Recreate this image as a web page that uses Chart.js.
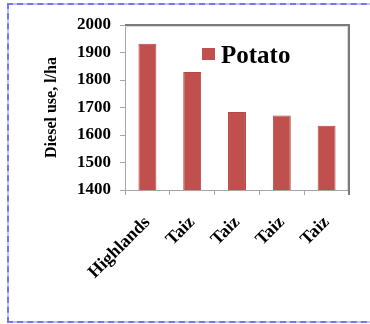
<!DOCTYPE html>
<html>
<head>
<meta charset="utf-8">
<script src="https://cdn.jsdelivr.net/npm/chart.js@4.4.0/dist/chart.umd.min.js"></script>
<style>
  html, body { margin: 0; padding: 0; background: #ffffff; }
  #wrap { position: relative; width: 370px; height: 324px; overflow: hidden; }
  .frame {
    position: absolute; left: 7px; top: 3px; width: 380px; height: 320px;
    box-sizing: border-box;
  }
  #frameBase { border: 2px solid #c2c2ff; }
  #frameDash { border: 2px dashed #7676f2; }
  canvas { position: absolute; left: 0; top: 0; }
</style>
</head>
<body>
<div id="wrap">
  <div class="frame" id="frameBase"></div>
  <div class="frame" id="frameDash"></div>
  <canvas id="c" width="370" height="324"></canvas>
</div>
<script>
// Diesel use per hectare for potato, by region
const categories = ["Highlands", "Taiz", "Taiz", "Taiz", "Taiz"];
const potato = [1932, 1829, 1684, 1671, 1634];
const yTicks = [1400, 1500, 1600, 1700, 1800, 1900, 2000];

const serif = "'Liberation Serif', 'Times New Roman', serif";
const barColor = "#c0504d";

// Frame on the top and right edges of the plot area
const plotFrame = {
  id: "plotFrame",
  afterDatasetsDraw(chart) {
    const { ctx, chartArea: a } = chart;
    ctx.save();
    ctx.strokeStyle = "#d8d8d8";
    ctx.lineWidth = 1;
    ctx.beginPath();
    ctx.moveTo(a.left, a.top + 1.5);
    ctx.lineTo(a.right - 1.5, a.top + 1.5);
    ctx.lineTo(a.right - 1.5, a.bottom);
    ctx.stroke();
    ctx.strokeStyle = "#7a7a7a";
    ctx.lineWidth = 2;
    ctx.beginPath();
    ctx.moveTo(a.left, a.top);
    ctx.lineTo(a.right, a.top);
    ctx.lineTo(a.right, a.bottom + 5);
    ctx.stroke();
    ctx.restore();
  }
};

// Legend drawn inside the plot area, near its top right corner
const innerLegend = {
  id: "innerLegend",
  afterDraw(chart) {
    const { ctx, chartArea: a } = chart;
    const ds = chart.data.datasets[0];
    const x = a.left + 77, y = a.top + 29;
    ctx.save();
    ctx.fillStyle = ds.backgroundColor;
    ctx.fillRect(x, y - 6, 13, 12);
    ctx.fillStyle = "#000000";
    ctx.font = "bold 25px " + serif;
    ctx.textBaseline = "middle";
    ctx.textAlign = "left";
    ctx.fillText(ds.label, x + 19, y + 3);
    ctx.restore();
  }
};

new Chart(document.getElementById("c"), {
  type: "bar",
  data: {
    labels: categories,
    datasets: [{
      label: "Potato",
      data: potato,
      backgroundColor: barColor,
      borderColor: "#b84744",
      borderWidth: 1,
      categoryPercentage: 1.0,
      barPercentage: 0.4
    }]
  },
  options: {
    responsive: false,
    animation: false,
    devicePixelRatio: 1,
    layout: { padding: { left: 42, top: 25, right: 21, bottom: 30 } },
    plugins: {
      legend: { display: false },
      tooltip: { enabled: false }
    },
    scales: {
      x: {
        grid: {
          drawOnChartArea: false, drawTicks: true, tickLength: 5,
          color: "#a6a6a6", offset: true
        },
        border: { color: "#a6a6a6", width: 1 },
        ticks: {
          color: "#000000", minRotation: 45, maxRotation: 45, padding: 17,
          font: { family: serif, size: 18, weight: "bold" }
        },
        afterFit(scale) { scale.height = 104; }
      },
      y: {
        min: 1400, max: 2000,
        afterBuildTicks(scale) { scale.ticks = yTicks.map(v => ({ value: v })); },
        grid: {
          drawOnChartArea: false, drawTicks: true, tickLength: 5,
          color: "#a6a6a6"
        },
        border: { color: "#a6a6a6", width: 1 },
        ticks: {
          color: "#000000", padding: 9,
          callback: v => String(v),
          font: { family: serif, size: 17, weight: "bold" }
        },
        title: {
          display: true, text: "Diesel use, l/ha", color: "#000000",
          padding: { top: 0, bottom: 0 },
          font: { family: serif, size: 16, weight: "bold" }
        },
        afterFit(scale) { scale.width = 83; }
      }
    }
  },
  plugins: [plotFrame, innerLegend]
});
</script>
</body>
</html>
